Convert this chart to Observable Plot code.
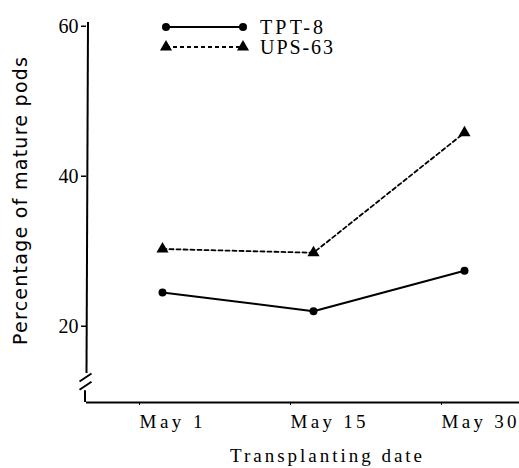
<!DOCTYPE html>
<html><head><meta charset="utf-8">
<script src="https://cdn.jsdelivr.net/npm/d3@7"></script>
<script src="https://cdn.jsdelivr.net/npm/@observablehq/plot@0.6"></script>
<style>html,body{margin:0;padding:0;background:#fff}svg{display:block}</style>
</head><body>
<div id="chart"></div>
<script>
const dates = ["May 1", "May 15", "May 30"];
const tpt8 = [24.5, 22.0, 27.4];
const ups63 = [30.3, 29.8, 45.8];
const seriesNames = ["TPT-8", "UPS-63"];
const yTicks = [20, 40, 60];
const xTitle = "Transplanting date";
const yTitle = "Percentage of mature pods";

const rows = dates.flatMap((d, i) => [
  {date: d, value: tpt8[i], series: seriesNames[0]},
  {date: d, value: ups63[i], series: seriesNames[1]}
]);
const tRows = rows.filter(r => r.series === seriesNames[0]);
const uRows = rows.filter(r => r.series === seriesNames[1]);
const yMin = 9.83, yMax = 60.5;

const chart = Plot.plot({
  width: 519, height: 468,
  marginLeft: 86, marginRight: 0, marginTop: 22, marginBottom: 66,
  style: {fontFamily: "'Liberation Serif', serif", background: "#fff", color: "#000"},
  x: {type: "point", domain: dates, range: [162, 464], padding: 0, label: null},
  y: {domain: [yMin, yMax], label: null},
  marks: [
    Plot.ruleY([yMin], {stroke: "#000", strokeWidth: 2}),
    Plot.axisX({ticks: dates, tickSize: 3, tickPadding: 9, fontSize: 19, textAnchor: "start", dx: -23, label: null}),
    Plot.axisY({ticks: yTicks, tickSize: 5, tickPadding: 3, fontSize: 20, label: null, strokeWidth: 1.5}),
    Plot.line(tRows, {x: "date", y: "value", stroke: "#000", strokeWidth: 2}),
    Plot.line(uRows, {x: "date", y: "value", stroke: "#000", strokeWidth: 1.8, strokeDasharray: "4,3"}),
    Plot.dot(tRows, {x: "date", y: "value", r: 4, fill: "#000", symbol: "circle"}),
    Plot.dot(uRows, {x: "date", y: "value", r: 4.5, fill: "#000", symbol: "triangle"})
  ]
});
document.getElementById("chart").appendChild(chart);

const svg = d3.select(chart);
const ys = chart.scale("y");
const yp = v => ys.apply(v);

// x tick label widths (wide typeset spacing)
svg.selectAll('g[aria-label="x-axis tick label"] text')
  .attr("textLength", function() { return this.textContent.trim() === dates[0] ? 63 : 75; })
  .attr("lengthAdjust", "spacing");

// y axis line with break
const ax = 86.5;
const g = svg.append("g").attr("stroke", "#000").attr("fill", "none").attr("stroke-width", 2);
g.append("line").attr("x1", ax + 1.5).attr("x2", ax).attr("y1", yp(yMax)).attr("y2", yp(13.7));
g.append("line").attr("x1", ax - 1.5).attr("x2", ax - 1.5).attr("y1", yp(11.4)).attr("y2", yp(yMin));
g.append("line").attr("x1", ax - 7).attr("y1", yp(13.1) + 4).attr("x2", ax + 5).attr("y2", yp(13.1) - 4);
g.append("line").attr("x1", ax - 7).attr("y1", yp(12.0) + 4).attr("x2", ax + 5).attr("y2", yp(12.0) - 4);

// axis titles
svg.append("text").attr("x", 326).attr("y", 462).attr("text-anchor", "middle")
  .attr("font-family", "'Liberation Serif', serif").attr("font-size", 19)
  .attr("textLength", 192).attr("lengthAdjust", "spacing").text(xTitle);
svg.append("text").attr("transform", "translate(27,201) rotate(-90)").attr("text-anchor", "middle")
  .attr("font-family", "'DejaVu Sans', sans-serif").attr("font-size", 19)
  .attr("textLength", 288).attr("lengthAdjust", "spacing").text(yTitle);

// legend
const leg = svg.append("g").attr("text-anchor", "start");
const legRows = [
  {name: seriesNames[0], y: 27, dash: null, sym: d3.symbolCircle, r: 4, len: 63},
  {name: seriesNames[1], y: 47, dash: "4,3", sym: d3.symbolTriangle, r: 4.5, len: 73}
];
legRows.forEach(d => {
  leg.append("line").attr("x1", 166).attr("x2", 243).attr("y1", d.y).attr("y2", d.y)
    .attr("stroke", "#000").attr("stroke-width", d.dash ? 1.8 : 2)
    .attr("stroke-dasharray", d.dash);
  [166, 243].forEach(x => leg.append("path")
    .attr("d", d3.symbol(d.sym, d.r * d.r * Math.PI)())
    .attr("transform", `translate(${x},${d.y})`).attr("fill", "#000"));
  leg.append("text").attr("x", 260).attr("y", d.y + 7).attr("text-anchor", "start")
    .attr("font-family", "'Liberation Serif', serif").attr("font-size", 20)
    .attr("textLength", d.len).attr("lengthAdjust", "spacing").text(d.name);
});
</script>
</body></html>
